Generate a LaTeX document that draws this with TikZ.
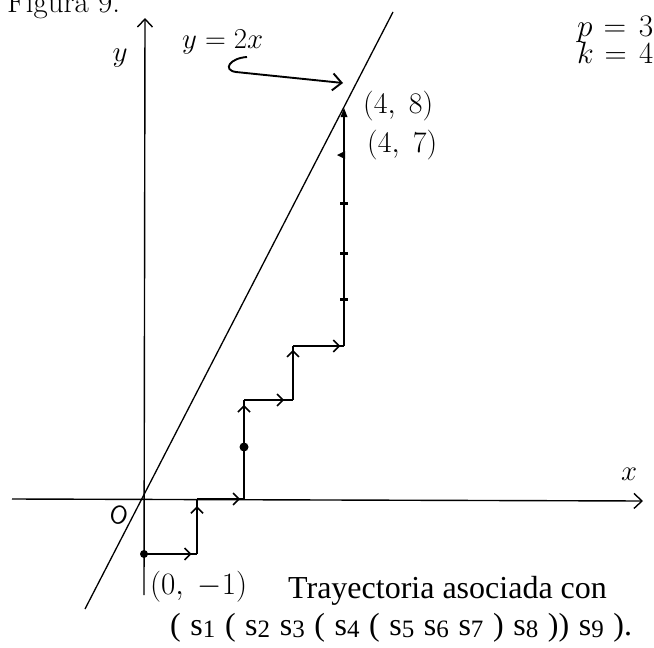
\documentclass[tikz,border=0pt]{standalone}
\usepackage{fontspec}
\usepackage{graphicx}
\newfontfamily\serfont{Liberation Serif}
\usetikzlibrary{arrows.meta,decorations.markings}
\newcommand\sd[1]{\raisebox{-0.2ex}{\fontsize{25}{25}\selectfont #1}}
\newcommand\wbox[2]{\resizebox{#1pt}{!}{\LARGE #2}}
\tikzset{
  axisline/.style={line width=1.4pt,-{Straight Barb[length=8pt,width=15pt,line width=1.4pt]}},
  diagline/.style={line width=1.3pt},
  seg/.style={line width=1.8pt},
  arrat/.style={postaction={decorate},decoration={markings,
      mark=at position #1 with {\arrow{Straight Barb[length=6pt,width=12pt,line width=1.6pt]}}}},
  curvearr/.style={line width=1.9pt,-{Straight Barb[length=9pt,width=17pt,line width=1.9pt]}},
  tick/.style={line width=3pt},
  lbl/.style={inner sep=0pt},
  tfont/.style={inner sep=0pt,font=\serfont\fontsize{32}{36}\selectfont},
}
\begin{document}
\begin{tikzpicture}[x=1pt,y=-1pt]
\useasboundingbox (0,0) rectangle (654,648);
% axes
\coordinate (xs) at (12,499);
\coordinate (xe) at (643,501);
\coordinate (ys) at (144,595);
\coordinate (ye) at (145,18);
\coordinate (la) at (85,609);
\coordinate (lb) at (393,12);
\draw[axisline] (xs) -- (xe);
\draw[axisline] (ys) -- (ye);
\draw[diagline] (la) -- (lb);
% lattice path
\coordinate (p0) at (144,554);
\coordinate (p1) at (197,554);
\coordinate (p2) at (197,499);
\coordinate (p3) at (244,499);
\coordinate (p4) at (244,447);
\coordinate (p5) at (244,400);
\coordinate (p6) at (293,400);
\coordinate (p7) at (293,346);
\coordinate (p8) at (344,346);
\coordinate (p9) at (344,299);
\coordinate (p10) at (344,253);
\coordinate (p11) at (344,203);
\coordinate (p12) at (344,155);
\coordinate (p13) at (344,112);
\draw[seg,arrat=0.9] (p0) -- (p1);
\draw[seg,arrat=0.87] (p1) -- (p2);
\draw[seg,arrat=0.92] (p2) -- (p3);
\draw[seg,arrat=0.95] (p3) -- (p5);
\draw[seg,arrat=0.82] (p5) -- (p6);
\draw[seg,arrat=0.93] (p6) -- (p7);
\draw[seg,arrat=0.93] (p7) -- (p8);
\draw[seg] (p8) -- (p13);
\fill (p0) circle (4);
\fill (p4) circle (4.5);
\draw[tick] (p9) ++(-4,0) -- ++(8,0);
\draw[tick] (p10) ++(-4,0) -- ++(8,0);
\draw[tick] (p11) ++(-4,0) -- ++(8,0);
\fill (p12) ++(1,-4) -- ++(0,8) -- ++(-8,-4) -- cycle;
\fill (p13) ++(0,-4) -- ++(-3.5,9) -- ++(7,0) -- cycle;
% labels
\node[lbl,anchor=base west] (fig) at (7,12) {\wbox{113}{Figura 9.}};
\node[lbl] (ylab) at (120,58) {\wbox{15}{$y$}};
\node[lbl,anchor=base west] (eq) at (182,48) {\wbox{81}{$y = 2x$}};
\node[lbl,anchor=base west] (pl) at (577,36) {\wbox{76}{$p\hspace{6pt}{=}\hspace{7pt}3$}};
\node[lbl,anchor=base west] (kl) at (577,63) {\wbox{76}{$k\hspace{6pt}{=}\hspace{7pt}4$}};
\node[lbl,anchor=west] (l48) at (363,106) {\wbox{70}{$(4,\;8)$}};
\node[lbl,anchor=west] (l47) at (367,145) {\wbox{70}{$(4,\;7)$}};
\node[lbl] (xlab) at (629,474) {\wbox{16}{$x$}};
\node[lbl,rotate=-15] (olab) at (119,515) {\wbox{18}{\sffamily O}};
\node[lbl,anchor=west] (l01) at (150,587) {\wbox{97}{$(0,\;-1)$}};
\node[tfont,anchor=base west] (t1) at (288,598) {Trayectoria asociada con};
\node[tfont,anchor=base west] (t2) at (170,635) {\spaceskip=9.6pt ( s\sd1 ( s\sd2 s\sd3 ( s\sd4 ( s\sd5 s\sd6 s\sd7 ) s\sd8 )) s\sd9 ).};
% pointer arrow from the equation to the line
\coordinate (c1) at (247,57);
\coordinate (c2) at (343,83);
\draw[curvearr] (c1) .. controls (230,58) and (222,70) .. (236,72) -- (c2);
\end{tikzpicture}
\end{document}
